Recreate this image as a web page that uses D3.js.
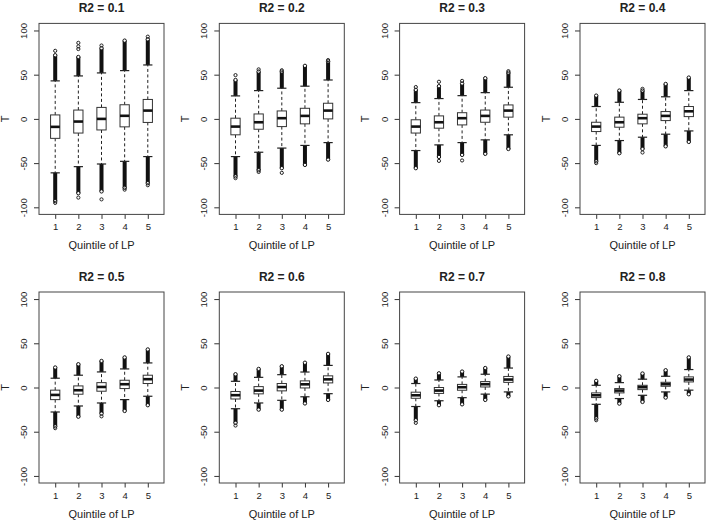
<!DOCTYPE html>
<html>
<head>
<meta charset="utf-8">
<script src="https://cdn.jsdelivr.net/npm/d3@7"></script>
<style>
body { margin: 0; background: #fff; }
text { font-family: "Liberation Sans", Arial, sans-serif; fill: #222; }
</style>
</head>
<body>
<script>
// panel titles and the quintile groups
const titles = ["R2 = 0.1", "R2 = 0.2", "R2 = 0.3", "R2 = 0.4",
                "R2 = 0.5", "R2 = 0.6", "R2 = 0.7", "R2 = 0.8"];
const quintiles = [1, 2, 3, 4, 5];
const yTicks = [-100, -50, 0, 50, 100];

// box stats, one row per panel, one value per quintile
const medians = [
  [-9, -3, 0, 3.5, 9.4],
  [-8.7, -3.8, 0.8, 3.4, 9.4],
  [-8.7, -3.8, 0.8, 3.4, 9.4],
  [-8.7, -3.8, 0.8, 3.4, 8.6],
  [-8.4, -3.1, 0.6, 3.7, 9.4],
  [-8.7, -3.5, 0.5, 3.6, 9.2],
  [-8.8, -3.5, 0.3, 3.7, 9],
  [-8.8, -3.5, 0.3, 3.7, 9]
];
const upperQ = [
  [4.5, 10, 13, 16, 22],
  [0.8, 5.6, 9, 12, 17.7],
  [-1, 3.4, 7, 10, 15.8],
  [-3.8, 2, 5.3, 8.3, 14],
  [-3, 1.8, 5.5, 8.2, 13.9],
  [-4.5, 1, 4.5, 7.5, 13.2],
  [-5.3, 0, 3.5, 6.7, 12.5],
  [-6.1, -1.2, 2.5, 5.9, 12]
];
const lowerQ = [
  [-22, -16, -12.5, -9, -4],
  [-18, -11.7, -8.7, -5.6, 0],
  [-16, -10.5, -6.8, -3.8, 2],
  [-14.3, -9.4, -5.6, -1.9, 2.6],
  [-13.7, -7.6, -4.2, -1.2, 4.5],
  [-13, -7.2, -3.8, -0.5, 5.2],
  [-12.2, -6.7, -3.1, 0.6, 5.8],
  [-11.4, -6.1, -2.4, 1.4, 6.3]
];
const whiskerHi = [
  [43, 48.6, 52, 54.6, 61],
  [26, 32, 34.7, 37, 44],
  [18.4, 23, 26.3, 29.7, 35.8],
  [14, 18.8, 22, 25, 32],
  [10.5, 13.9, 17.6, 21, 27.8],
  [7, 11.5, 14.5, 17.5, 25],
  [4.5, 8.5, 12, 15, 22],
  [2.5, 5.5, 9.4, 12.7, 20.3]
];
const whiskerLo = [
  [-61, -54, -51, -48, -42.6],
  [-42.6, -37.7, -33, -30, -26.8],
  [-35.8, -29.4, -26.8, -23.7, -18],
  [-30, -24.5, -20.7, -17.3, -13.6],
  [-27.7, -20.9, -17.5, -13.7, -9.9],
  [-24, -17.5, -14.5, -10.5, -7],
  [-21.5, -15, -11.5, -7.5, -5],
  [-19, -12.5, -8.8, -5, -3]
];
// how far the solid mass of outlier circles reaches
const denseHi = [
  [72, 70, 80, 88.5, 90],
  [44, 53.5, 53.5, 60, 65],
  [32.8, 37, 40, 46, 52.3],
  [26.3, 32, 32, 39.5, 46.7],
  [22.6, 26.3, 30, 34, 43],
  [15, 21, 24, 28, 38],
  [10, 16, 18, 22, 35],
  [7.5, 12.7, 15.8, 19.5, 34]
];
const denseLo = [
  [-93, -84, -82, -78, -72.7],
  [-65, -58, -55.7, -52, -46],
  [-55.7, -43, -40.7, -39.5, -34],
  [-48, -38.8, -34, -31, -26],
  [-44, -33, -29.5, -26.5, -20],
  [-40, -25, -25, -18, -14],
  [-37, -20, -19, -14, -10],
  [-35, -18.2, -16.3, -11.4, -7.6]
];
// single stray outliers: [panel, quintile, value]
const strays = [
  [0, 1, 77], [0, 1, -95], [0, 2, 86], [0, 2, 82], [0, 2, 79], [0, 2, -89],
  [0, 3, 83], [0, 3, -91], [0, 4, -80], [0, 5, 93], [0, 5, -75],
  [1, 1, 49.5], [1, 1, -67], [1, 2, 56], [1, 2, -60], [1, 3, 55], [1, 3, -61], [1, 5, 66.5],
  [2, 1, 36], [2, 2, 42], [2, 2, -47.5], [2, 3, 43], [2, 3, -47], [2, 5, 54],
  [3, 1, -50], [3, 3, 34], [3, 3, -38],
  [4, 1, -46], [4, 3, -32.6],
  [5, 1, -43], [6, 1, -40], [7, 1, -37]
];

const W = 709, H = 523;
const plotW = 125, plotH = 191;
const lefts = [39, 219.3, 399.6, 580];
const tops = [23.4, 292];

const svg = d3.select("body").append("svg")
  .attr("width", W).attr("height", H);

const x = d3.scaleLinear().domain([0.3, 5.7]).range([0, plotW]);
const y = d3.scaleLinear().domain([-108, 108]).range([plotH, 0]);
const boxW = x(1.4) - x(1);     // boxwex 0.8
const stapleW = x(1.2) - x(1);

titles.forEach(function(title, p) {
  const g = svg.append("g")
    .attr("transform", "translate(" + lefts[p % 4] + "," + tops[Math.floor(p / 4)] + ")");

  g.append("text")
    .attr("x", plotW / 2).attr("y", -11.5)
    .attr("text-anchor", "middle")
    .style("font-size", "12px").style("font-weight", "bold")
    .text(title);

  // y axis
  const ya = g.append("g").call(d3.axisLeft(y).tickValues(yTicks).tickSize(5));
  ya.select(".domain").remove();
  ya.selectAll("line").attr("stroke", "#333");
  ya.selectAll("text")
    .attr("x", 0).attr("y", 0).attr("dy", 0)
    .attr("transform", "translate(-12,0) rotate(-90)")
    .style("text-anchor", "middle").style("font-size", "9.5px")
    .text(d => d);

  // x axis
  const xa = g.append("g").attr("transform", "translate(0," + plotH + ")")
    .call(d3.axisBottom(x).tickValues(quintiles).tickSize(4.5).tickFormat(d3.format("d")));
  xa.select(".domain").remove();
  xa.selectAll("line").attr("stroke", "#333");
  xa.selectAll("text").attr("y", 9).style("font-size", "9.5px").attr("fill", "#222");

  g.append("text")
    .attr("x", plotW / 2).attr("y", plotH + 34.5)
    .attr("text-anchor", "middle").style("font-size", "11px")
    .text("Quintile of LP");

  g.append("text")
    .attr("transform", "translate(-30.5," + y(0) + ") rotate(-90)")
    .attr("text-anchor", "middle").style("font-size", "11px")
    .text("T");

  const groups = g.selectAll(".grp").data(quintiles).join("g").attr("class", "grp");

  // dense outlier runs
  [[whiskerHi, denseHi], [whiskerLo, denseLo]].forEach(function(pair) {
    groups.append("line")
      .attr("x1", d => x(d)).attr("x2", d => x(d))
      .attr("y1", (d, i) => y(pair[0][p][i]))
      .attr("y2", (d, i) => y(pair[1][p][i]))
      .attr("stroke", "#111").attr("stroke-width", 4);
    groups.append("circle")
      .attr("cx", d => x(d)).attr("cy", (d, i) => y(pair[1][p][i]))
      .attr("r", 1.7).attr("fill", "#fff").attr("stroke", "#111").attr("stroke-width", 1);
  });

  // dashed whiskers
  groups.append("line")
    .attr("x1", d => x(d)).attr("x2", d => x(d))
    .attr("y1", (d, i) => y(upperQ[p][i])).attr("y2", (d, i) => y(whiskerHi[p][i]))
    .attr("stroke", "#222").attr("stroke-dasharray", "3,2.5");
  groups.append("line")
    .attr("x1", d => x(d)).attr("x2", d => x(d))
    .attr("y1", (d, i) => y(lowerQ[p][i])).attr("y2", (d, i) => y(whiskerLo[p][i]))
    .attr("stroke", "#222").attr("stroke-dasharray", "3,2.5");

  // staples
  [whiskerHi, whiskerLo].forEach(function(arr) {
    groups.append("line")
      .attr("x1", d => x(d) - stapleW).attr("x2", d => x(d) + stapleW)
      .attr("y1", (d, i) => y(arr[p][i])).attr("y2", (d, i) => y(arr[p][i]))
      .attr("stroke", "#222").attr("stroke-width", 1.2);
  });

  // boxes
  groups.append("rect")
    .attr("x", d => x(d) - boxW / 2).attr("width", boxW)
    .attr("y", (d, i) => y(upperQ[p][i]))
    .attr("height", (d, i) => y(lowerQ[p][i]) - y(upperQ[p][i]))
    .attr("fill", "#fff").attr("stroke", "#333").attr("stroke-width", 1);

  groups.append("line")
    .attr("x1", d => x(d) - boxW / 2).attr("x2", d => x(d) + boxW / 2)
    .attr("y1", (d, i) => y(medians[p][i])).attr("y2", (d, i) => y(medians[p][i]))
    .attr("stroke", "#111").attr("stroke-width", 2.6);

  // stray outliers
  g.selectAll(".stray").data(strays.filter(s => s[0] === p)).join("circle")
    .attr("class", "stray")
    .attr("cx", d => x(d[1])).attr("cy", d => y(d[2]))
    .attr("r", 1.6).attr("fill", "none").attr("stroke", "#222").attr("stroke-width", 1);

  // frame
  g.append("rect")
    .attr("width", plotW).attr("height", plotH)
    .attr("fill", "none").attr("stroke", "#444").attr("stroke-width", 1);
});
</script>
</body>
</html>
